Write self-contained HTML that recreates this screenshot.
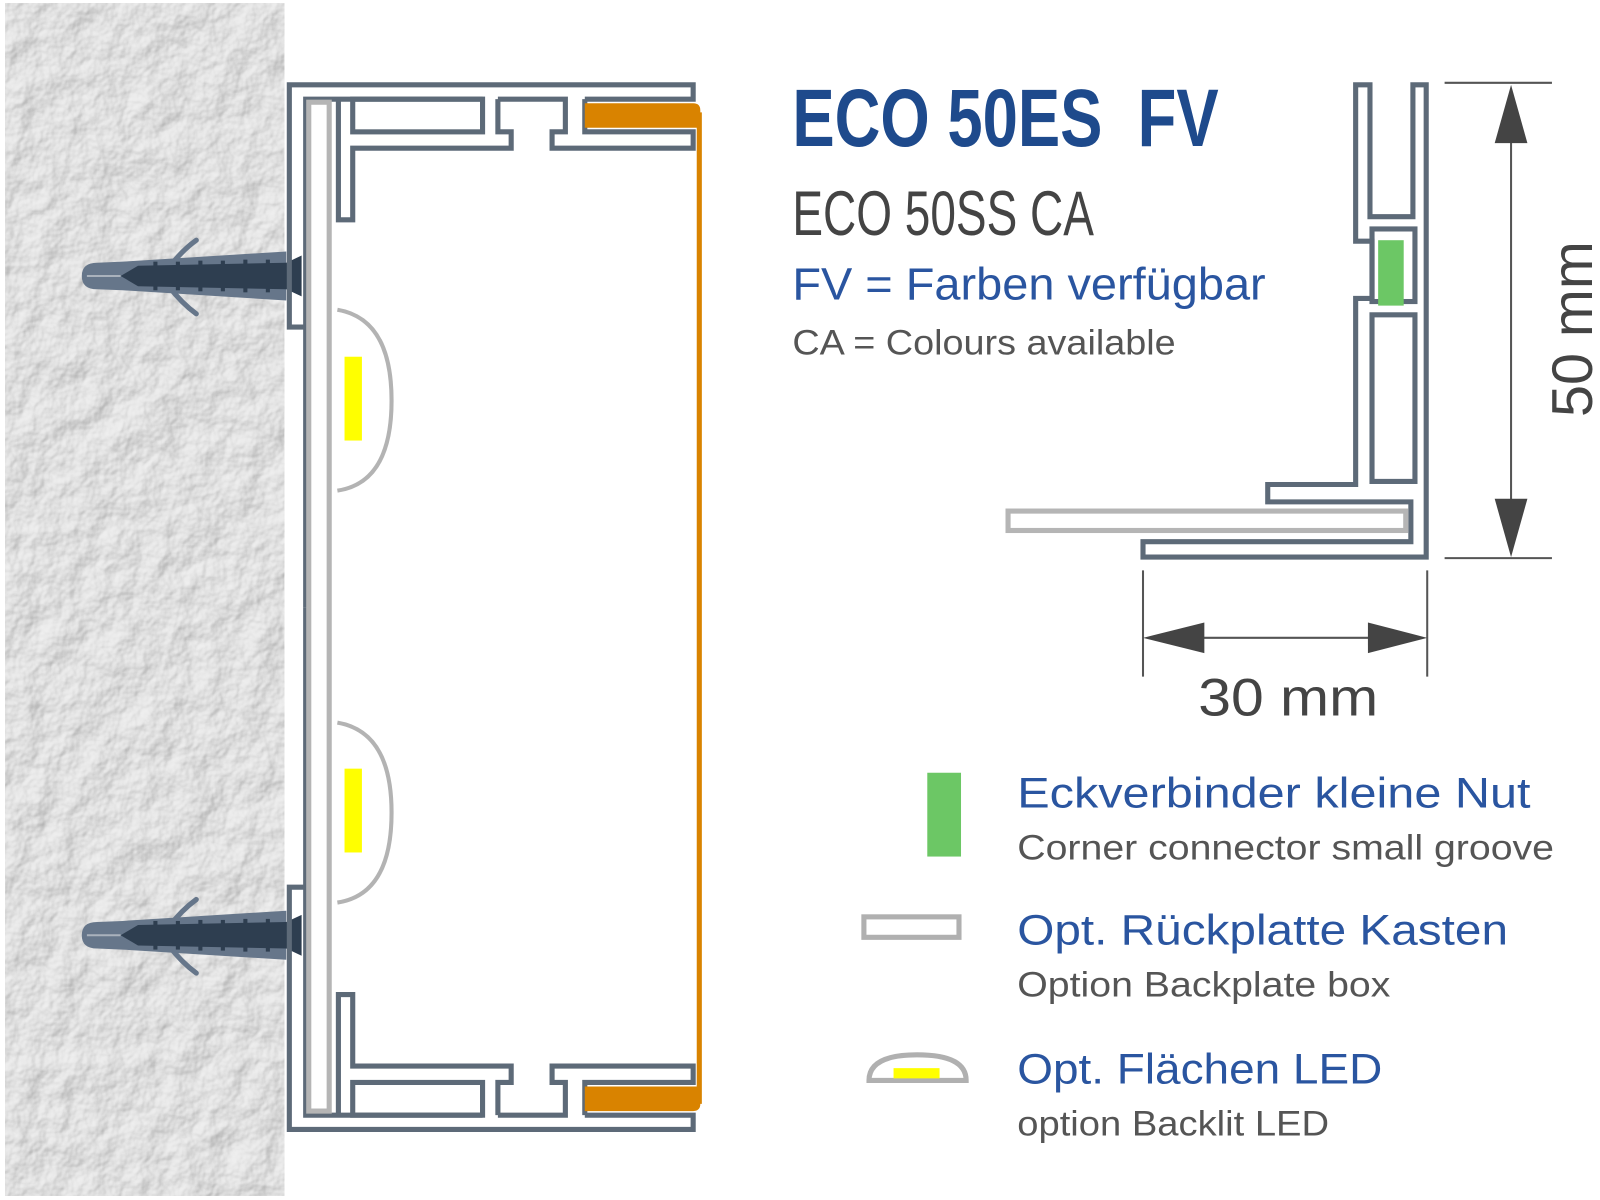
<!DOCTYPE html>
<html><head><meta charset="utf-8"><style>
html,body{margin:0;padding:0;background:#fff;width:1600px;height:1200px;overflow:hidden}
svg{display:block}
text{font-family:"Liberation Sans","DejaVu Sans",sans-serif}
</style></head><body>
<svg width="1600" height="1200" viewBox="0 0 1565 1174" preserveAspectRatio="none" xmlns="http://www.w3.org/2000/svg">
<defs>
<filter id="tex" x="0" y="0" width="100%" height="100%">
<feTurbulence type="fractalNoise" baseFrequency="0.03" numOctaves="4" seed="3" result="n"/>
<feDiffuseLighting in="n" surfaceScale="6" lighting-color="#ffffff" result="l"><feDistantLight azimuth="225" elevation="50"/></feDiffuseLighting>
<feColorMatrix in="l" type="matrix" values="0.5 0 0 0 0.36  0.5 0 0 0 0.36  0.5 0 0 0 0.36  0 0 0 0 1"/>
</filter>
<g id="half" fill="none" stroke="#5d6a78" stroke-width="5" stroke-linejoin="miter">
<path d="M297,320 L283,320 L283,83 L678,83 L678,97 L572,97"/>
<path d="M299,594 L299,97 L472,97 M487,97 L553,97 L553,129 L540,129 L540,145 L678,145 L678,129 L572,129 L572,97 M487,97 L487,129 L500,129 L500,145 L345,145 L345,215 L331,215 L331,97"/>
<rect x="345" y="97" width="127" height="32"/>
<path d="M572,101 L678,101 Q685,101 685,108 L685,125 L572,125 Z" fill="#d98300" stroke="none"/>
</g>
<g id="anchor">
<path d="M165,262 Q178,245 192,235 M165,280 Q178,297 192,307" stroke="#66768a" stroke-width="5" fill="none" stroke-linecap="round"/>
<path d="M80,270 Q80,257 95,257 L120,256 L280,246 L280,294 L120,284 L95,283 Q80,283 80,270 Z" fill="#66768a"/>
<path d="M85,270 L118,270" stroke="#aab2bc" stroke-width="2"/>
<path d="M118,270 L135,260 L280,257 L295,250 L295,290 L280,283 L135,280 Z" fill="#2e3e50"/>
<g fill="#2e3e50"><rect x="150" y="256" width="4" height="28"/><rect x="172" y="256" width="4" height="28"/><rect x="194" y="255" width="4" height="30"/><rect x="216" y="255" width="4" height="30"/><rect x="238" y="254" width="4" height="32"/><rect x="260" y="254" width="4" height="32"/></g>
</g>
</defs>
<rect x="5" y="3" width="273" height="1167" fill="#d0d0d0" filter="url(#tex)"/>
<use href="#anchor"/>
<use href="#anchor" transform="translate(0,645)"/>
<use href="#half"/>
<use href="#half" transform="matrix(1,0,0,-1,0,1188)"/>
<line x1="684" y1="110" x2="684" y2="1080" stroke="#d98300" stroke-width="5"/>
<rect x="302" y="100" width="20" height="987" fill="none" stroke="#b5b5b5" stroke-width="5"/>
<g fill="none" stroke="#b3b3b3" stroke-width="4">
<path d="M330,303 Q383,312 383,392 Q383,472 330,480"/>
<path d="M330,707 Q383,716 383,795 Q383,875 330,883"/>
</g>
<rect x="337" y="349" width="17" height="82" fill="#ffff00"/>
<rect x="337" y="752" width="17" height="82" fill="#ffff00"/>

<text x="775" y="143" font-size="80" font-weight="bold" fill="#1e4a8c" textLength="417" lengthAdjust="spacingAndGlyphs" xml:space="preserve">ECO 50ES&#160;&#160;FV</text>
<text x="775" y="230" font-size="62" fill="#444" textLength="295" lengthAdjust="spacingAndGlyphs">ECO 50SS CA</text>
<text x="775" y="293" font-size="44" fill="#2a55a0" textLength="463" lengthAdjust="spacingAndGlyphs">FV = Farben verfügbar</text>
<text x="775" y="347" font-size="34" fill="#555" textLength="375" lengthAdjust="spacingAndGlyphs">CA = Colours available</text>

<g fill="none" stroke="#5d6a78" stroke-width="5">
<path d="M1326,83 L1340,83 L1340,212 L1382,212 L1382,83 L1395,83 L1395,545 L1118,545 L1118,530 L1380,530 L1380,491 L1240,491 L1240,474 L1326,474 L1326,292 L1342,292 L1342,236 L1326,236 Z"/>
<rect x="1342" y="224" width="42" height="71"/>
<rect x="1342" y="308" width="42" height="163"/>
</g>
<rect x="1348" y="235" width="25" height="64" fill="#6cc765"/>
<rect x="986" y="500" width="389" height="19" fill="none" stroke="#b5b5b5" stroke-width="5"/>
<g stroke="#555" stroke-width="2">
<line x1="1413" y1="81" x2="1518" y2="81"/><line x1="1413" y1="546" x2="1518" y2="546"/>
<line x1="1478" y1="100" x2="1478" y2="530"/>
<line x1="1118" y1="558" x2="1118" y2="662"/><line x1="1396" y1="558" x2="1396" y2="662"/>
<line x1="1135" y1="624" x2="1380" y2="624"/>
</g>
<g fill="#444">
<polygon points="1478,83 1462,140 1494,140"/><polygon points="1478,545 1462,488 1494,488"/>
<polygon points="1118,624 1178,609 1178,639"/><polygon points="1396,624 1338,609 1338,639"/>
</g>
<text transform="translate(1557,408) rotate(-90)" font-size="56" fill="#444" textLength="172" lengthAdjust="spacingAndGlyphs">50 mm</text>
<text x="1172" y="700" font-size="52" fill="#444" textLength="176" lengthAdjust="spacingAndGlyphs">30 mm</text>

<rect x="907" y="756" width="33" height="82" fill="#6cc765"/>
<text x="995" y="790" font-size="42" fill="#2a55a0" textLength="502" lengthAdjust="spacingAndGlyphs">Eckverbinder kleine Nut</text>
<text x="995" y="841" font-size="34" fill="#555" textLength="525" lengthAdjust="spacingAndGlyphs">Corner connector small groove</text>
<rect x="845" y="897" width="93" height="20" fill="none" stroke="#b0b0b0" stroke-width="5"/>
<text x="995" y="924" font-size="42" fill="#2a55a0" textLength="480" lengthAdjust="spacingAndGlyphs">Opt. Rückplatte Kasten</text>
<text x="995" y="975" font-size="34" fill="#555" textLength="365" lengthAdjust="spacingAndGlyphs">Option Backplate box</text>
<path d="M850,1057 Q850,1032 897,1032 Q945,1032 945,1057 Z" fill="#fff" stroke="#b0b0b0" stroke-width="5"/>
<rect x="874" y="1045" width="45" height="10" fill="#ffff00"/>
<text x="995" y="1060" font-size="42" fill="#2a55a0" textLength="357" lengthAdjust="spacingAndGlyphs">Opt. Flächen LED</text>
<text x="995" y="1111" font-size="34" fill="#555" textLength="305" lengthAdjust="spacingAndGlyphs">option Backlit LED</text>
</svg>
</body></html>
